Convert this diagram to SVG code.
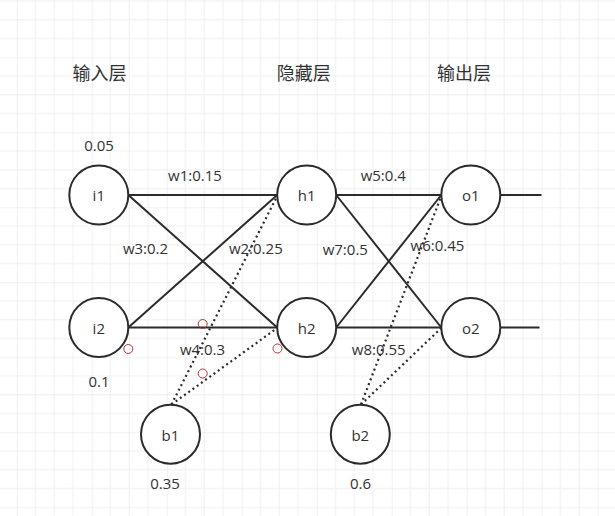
<svg xmlns="http://www.w3.org/2000/svg" width="615" height="516" viewBox="0 0 615 516">
<defs>
<pattern id="grid" x="16.7" y="57.3" width="75" height="75" patternUnits="userSpaceOnUse">
<path d="M18.75 0V75M37.5 0V75M56.25 0V75M0 18.75H75M0 37.5H75M0 56.25H75" fill="none" stroke="#efefef" stroke-width="1"/>
<path d="M0 0V75M0 0H75" fill="none" stroke="#e3e3e3" stroke-width="1"/>
</pattern>
<style>
.node circle{fill:#fff;stroke:#2b2b2b;stroke-width:2}
text{font-family:"Open Sans","Noto Sans CJK SC",sans-serif;font-size:15px;fill:#333;text-anchor:middle}
.hdr{font-family:"Noto Sans CJK SC",sans-serif;font-size:18px}
.solid line{stroke:#2b2b2b;stroke-width:2}
.dotted line{stroke:#2b2b2b;stroke-width:2.2;stroke-dasharray:2 3.2}
.hint circle{fill:none;stroke:#b03838;stroke-width:1}
</style>
</defs>
<rect width="615" height="516" fill="#fff"/>
<rect width="615" height="516" fill="url(#grid)"/>
<g id="headers">
<text class="hdr" x="99.5" y="80">输入层</text>
<text class="hdr" x="303.8" y="80">隐藏层</text>
<text class="hdr" x="464" y="80">输出层</text>
</g>
<g id="connectors">
<g class="solid">
<line x1="128.3" y1="195" x2="277.2" y2="195"/>
<line x1="128.3" y1="195" x2="277.2" y2="327.5"/>
<line x1="128.3" y1="327.5" x2="277.2" y2="195"/>
<line x1="128.3" y1="327.5" x2="277.2" y2="327.5"/>
<line x1="336.2" y1="195" x2="441.3" y2="195"/>
<line x1="336.2" y1="195" x2="441.3" y2="327.5"/>
<line x1="336.2" y1="327.5" x2="441.3" y2="195"/>
<line x1="336.2" y1="327.5" x2="441.3" y2="327.5"/>
<line x1="500.3" y1="195" x2="541.5" y2="195"/>
<line x1="500.3" y1="327.5" x2="539.5" y2="327.5"/>
</g>
<g class="dotted">
<line x1="171.5" y1="404.5" x2="277.2" y2="196"/>
<line x1="171.5" y1="404.5" x2="277.2" y2="328"/>
<line x1="361" y1="404.5" x2="441.3" y2="196"/>
<line x1="361" y1="404.5" x2="441.3" y2="328"/>
</g>
<g id="weights">
<text x="195" y="180.7">w1:0.15</text>
<text x="145.5" y="254">w3:0.2</text>
<text x="255.8" y="254">w2:0.25</text>
<text x="202.5" y="355">w4:0.3</text>
<text x="383.3" y="181">w5:0.4</text>
<text x="345.3" y="255">w7:0.5</text>
<text x="437.5" y="251">w6:0.45</text>
<text x="378.7" y="355">w8:0.55</text>
</g>
</g>
<g id="i1" class="node"><circle cx="98.8" cy="195" r="29.5"/><text x="98.8" y="201">i1</text><text x="99" y="150.7">0.05</text></g>
<g id="i2" class="node"><circle cx="98.8" cy="327.5" r="29.5"/><text x="98.8" y="334">i2</text><text x="99" y="387.3">0.1</text></g>
<g id="h1" class="node"><circle cx="306.7" cy="195" r="29.5"/><text x="306.7" y="201">h1</text></g>
<g id="h2" class="node"><circle cx="306.7" cy="327.5" r="29.5"/><text x="306.7" y="334">h2</text></g>
<g id="o1" class="node"><circle cx="470.8" cy="195" r="29.5"/><text x="470.8" y="201">o1</text></g>
<g id="o2" class="node"><circle cx="470.8" cy="327.5" r="29.5"/><text x="470.8" y="334">o2</text></g>
<g id="b1" class="node"><circle cx="170.5" cy="434.2" r="29.5"/><text x="170.5" y="441">b1</text><text x="165" y="489">0.35</text></g>
<g id="b2" class="node"><circle cx="360.3" cy="434.2" r="29.5"/><text x="360.3" y="441">b2</text><text x="360.5" y="489">0.6</text></g>
<g id="hints" class="hint">
<circle cx="128.3" cy="349" r="4.5"/>
<circle cx="202.7" cy="324" r="4.5"/>
<circle cx="277.5" cy="348.5" r="4.5"/>
<circle cx="202.7" cy="373.5" r="4.5"/>
</g>
</svg>
